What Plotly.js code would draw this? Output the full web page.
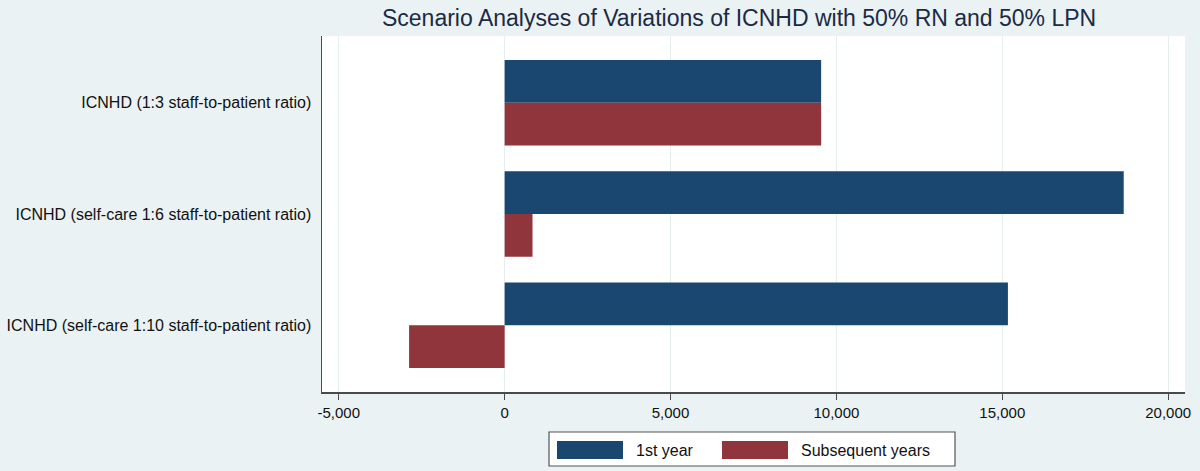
<!DOCTYPE html>
<html>
<head>
<meta charset="utf-8">
<script src="https://cdn.plot.ly/plotly-3.0.1.min.js"></script>
<style>
  html, body { margin: 0; padding: 0; background: #eaf2f3; }
  #chart { width: 1200px; height: 471px; }
</style>
</head>
<body>
<div id="chart"></div>
<script>
// ---- data ----
const categories = [
  "ICNHD (1:3 staff-to-patient ratio)",
  "ICNHD (self-care 1:6 staff-to-patient ratio)",
  "ICNHD (self-care 1:10 staff-to-patient ratio)"
];
const seriesNames = ["1st year", "Subsequent years"];
const firstYear = [9540, 18660, 15170];
const subsequentYears = [9540, 840, -2880];
const xTickVals = [-5000, 0, 5000, 10000, 15000, 20000];
const xTickText = ["-5,000", "0", "5,000", "10,000", "15,000", "20,000"];
const colors = ["#1a476f", "#90353b"];

// ---- layout geometry (pixels) ----
const W = 1200, H = 471;
const M = { l: 322, r: 15, t: 36, b: 79 };
const pw = W - M.l - M.r, ph = H - M.t - M.b;
const px = x => (x - M.l) / pw;
const py = y => (H - M.b - y) / ph;
const FONT = "Liberation Sans, Arial, sans-serif";

const traces = [firstYear, subsequentYears].map((vals, i) => ({
  type: "bar",
  orientation: "h",
  name: seriesNames[i],
  y: categories,
  x: vals,
  marker: { color: colors[i], line: { width: 0 } },
  hoverinfo: "x+y"
}));

// custom legend (wide swatches like the original)
const legendShapes = [
  { type: "rect", xref: "paper", yref: "paper", x0: px(549), x1: px(955), y0: py(466), y1: py(432),
    line: { color: "#555555", width: 1.2 }, fillcolor: "#ffffff" },
  { type: "rect", xref: "paper", yref: "paper", x0: px(557), x1: px(623), y0: py(459), y1: py(441),
    line: { width: 0 }, fillcolor: colors[0] },
  { type: "rect", xref: "paper", yref: "paper", x0: px(722), x1: px(788), y0: py(459), y1: py(441),
    line: { width: 0 }, fillcolor: colors[1] }
];
const legendAnn = [
  { xref: "paper", yref: "paper", x: px(634), y: py(450), xanchor: "left", yanchor: "middle",
    text: seriesNames[0], showarrow: false, font: { family: FONT, size: 16, color: "#111111" } },
  { xref: "paper", yref: "paper", x: px(799), y: py(450), xanchor: "left", yanchor: "middle",
    text: seriesNames[1], showarrow: false, font: { family: FONT, size: 16, color: "#111111" } }
];

const layout = {
  width: W, height: H,
  margin: M,
  paper_bgcolor: "#eaf2f3",
  plot_bgcolor: "#ffffff",
  showlegend: false,
  barmode: "group",
  bargap: 0.23,
  bargroupgap: 0,
  font: { family: FONT, size: 16, color: "#111111" },
  title: {
    text: "Scenario Analyses of Variations of ICNHD with 50% RN and 50% LPN",
    x: 0.5 * (M.l + W - M.r) / W - 0.012, xanchor: "center",
    y: 1 - 18 / H, yanchor: "middle",
    font: { family: FONT, size: 23, color: "#1c2a45" }
  },
  xaxis: {
    range: [-5505, 20507],
    tickvals: xTickVals,
    ticktext: xTickText,
    showgrid: true,
    gridcolor: "#e6eef0",
    gridwidth: 1,
    zeroline: false,
    showline: true,
    linecolor: "#4a4a4a",
    linewidth: 1.5,
    ticks: "outside",
    ticklen: 6,
    tickcolor: "#4a4a4a",
    tickfont: { family: FONT, size: 15, color: "#111111" }
  },
  yaxis: {
    type: "category",
    range: [2.6, -0.6],
    showgrid: false,
    zeroline: false,
    showline: true,
    linecolor: "#4a4a4a",
    linewidth: 1.5,
    ticks: "",
    ticklabelstandoff: 6,
    tickfont: { family: FONT, size: 16, color: "#111111" }
  },
  shapes: legendShapes,
  annotations: legendAnn
};

Plotly.newPlot("chart", traces, layout, { displayModeBar: false, staticPlot: true });
</script>
</body>
</html>
